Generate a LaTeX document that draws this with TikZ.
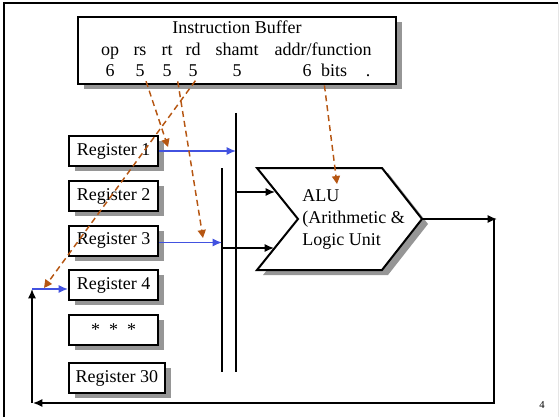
\documentclass[tikz,border=0pt]{standalone}
\usepackage{fontspec}
\setmainfont{Liberation Serif}
\usetikzlibrary{arrows.meta}
\usetikzlibrary{shadows}
\definecolor{regblue}{RGB}{66,82,224}
\definecolor{fieldorange}{RGB}{182,86,18}
\definecolor{shadowgray}{RGB}{150,150,150}

\begin{document}
\begin{tikzpicture}[x=0.75pt, y=-0.75pt, font=\fontsize{13.5}{16.5}\selectfont]
                    \tikzstyle{box} = [draw, line width=1.5pt, fill=white, drop shadow={shadow xshift=4.5pt, shadow yshift=-4pt, fill=shadowgray, opacity=1}]
                    \tikzstyle{reg} = [box, anchor=west, minimum width=67pt, minimum height=22.5pt, inner xsep=5pt]
                    \tikzstyle{field} = [anchor=base, inner sep=0pt]
                    \tikzstyle{bus} = [line width=1.5pt]
                    \tikzstyle{wire} = [line width=1.1pt, -{Latex[length=7pt,width=6pt]}]
                    \tikzstyle{regwire} = [wire, regblue]
                    \tikzstyle{select} = [line width=1.1pt, fieldorange, dash pattern=on 4.5pt off 3pt, shorten <=3pt, -{Triangle[length=6pt,width=6pt]}]
                    \useasboundingbox (0, 0) rectangle (559, 417);
                    \draw[line width=0.8pt] (4, 417) -- (4, 3) -- (558, 3);
                    \draw[black!10] (558, 3) -- (558, 417);
                    \node[box, minimum width=238.5pt, minimum height=50.25pt] (buffer) at (237, 50.5) {};
                    \node[field] (title) at (237, 34) {Instruction Buffer};
                    \node[field] (op) at (110, 56) {op};
                    \node[field] (rs) at (140, 56) {rs};
                    \node[field] (rt) at (167, 56) {rt};
                    \node[field] (rd) at (193, 56) {rd};
                    \node[field] (shamt) at (237, 56) {shamt};
                    \node[field] (addr) at (323, 56) {addr/function};
                    \node[field] (nop) at (110, 77) {6};
                    \node[field] (nrs) at (140, 77) {5};
                    \node[field] (nrt) at (167, 77) {5};
                    \node[field] (nrd) at (193, 77) {5};
                    \node[field] (nshamt) at (237, 77) {5};
                    \node[field] (naddr) at (307, 77) {6};
                    \node[field] (bits) at (334, 77) {bits};
                    \node[field] (dot) at (368, 77) {.};
                    \node[reg] (reg1) at (68, 151) {Register 1};
                    \node[reg] (reg2) at (68, 196) {Register 2};
                    \node[reg] (reg3) at (68, 240.5) {Register 3};
                    \node[reg] (reg4) at (68, 285) {Register 4};
                    \node[reg] (regdots) at (68, 329.5) {*\ \ *\ \ *};
                    \node[reg] (reg30) at (68, 378) {Register 30};
                    \coordinate (bus1top) at (236, 113);
                    \coordinate (bus1bot) at (236, 372);
                    \coordinate (bus2top) at (222, 168);
                    \coordinate (bus2bot) at (222, 372);
                    \draw[bus] (bus1top) -- (bus1bot);
                    \draw[bus] (bus2top) -- (bus2bot);
                    \fill[shadowgray, shift={(6, 5)}] (257, 168) -- (382, 168) -- (422, 219) -- (382, 270) -- (257, 270) -- (298, 219) -- cycle;
                    \draw[line width=1.5pt, fill=white] (257, 168) -- (382, 168) -- (422, 219) -- (382, 270) -- (257, 270) -- (298, 219) -- cycle;
                    \node[align=left, anchor=west, inner sep=0pt] (alutext) at (302, 219) {ALU\\(Arithmetic \&\\Logic Unit};
                    \coordinate (aluA) at (275, 192);
                    \coordinate (aluB) at (274, 248);
                    \coordinate (aluout) at (422, 219);
                    \coordinate (aluto) at (497, 219);
                    \coordinate (loopR) at (494, 403);
                    \coordinate (loopL) at (32, 403);
                    \coordinate (loopup) at (32, 289);
                    \draw[regwire] (reg1.east) -- (reg1.east -| bus1top);
                    \draw[regwire] ([yshift=-1.5pt]reg3.east) -- ([yshift=-1.5pt]reg3.east -| bus2top);
                    \draw[wire] (aluA -| bus1top) -- (aluA);
                    \draw[wire] (aluB -| bus2top) -- (aluB);
                    \draw[wire] (aluout) -- (aluto);
                    \draw[wire] (aluto -| loopR) -- (loopR) -- ([xshift=0.75pt]loopL);
                    \draw[wire] (loopL) -- (loopup);
                    \draw[regwire] (loopup) -- (loopup -| reg4.west);
                    \coordinate (rsto) at (168, 147);
                    \coordinate (rtto) at (203, 238);
                    \coordinate (rdto) at (44, 288);
                    \coordinate (aluin) at (337, 184);
                    \draw[select] (nrs.south east) -- (rsto);
                    \draw[select] ([xshift=4pt]nrt.south east) -- (rtto);
                    \draw[select] (nrd.south east) -- (rdto);
                    \draw[select, shorten <=6pt] ([xshift=2pt]bits.south west) -- (aluin);
                    \node[font=\fontsize{8}{9}\selectfont] (page) at (542, 405) {4};
                \end{tikzpicture}
\end{document}
